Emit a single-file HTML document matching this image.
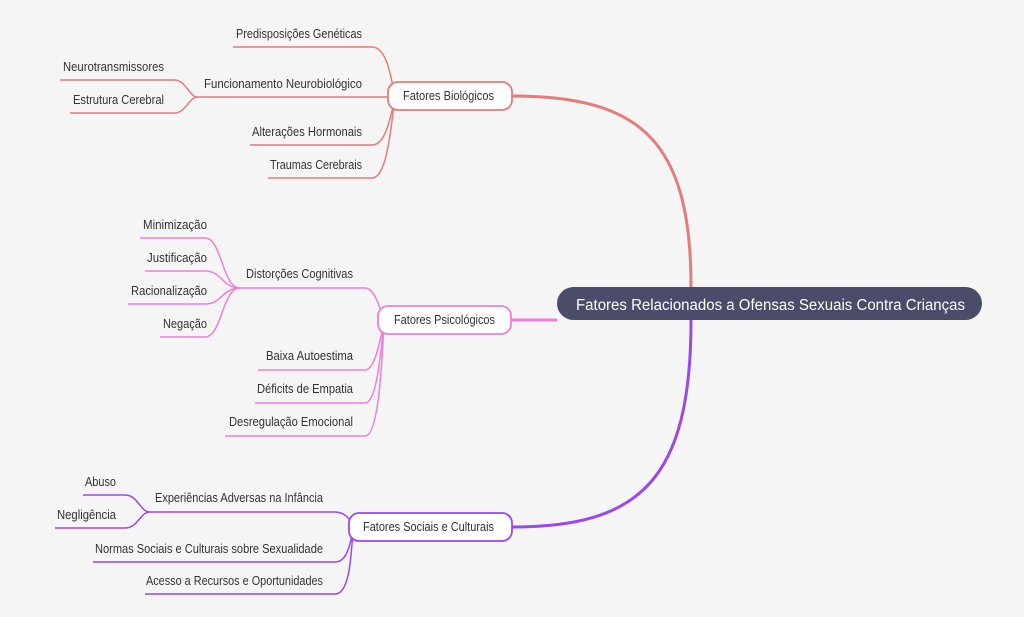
<!DOCTYPE html>
<html><head><meta charset="utf-8"><style>
html,body{margin:0;padding:0;background:#f5f5f5;}
svg{display:block;font-family:"Liberation Sans",sans-serif;}
text{font-size:12.5px;fill:#333;}
</style></head><body>
<svg width="1024" height="617" viewBox="0 0 1024 617">
<rect width="1024" height="617" fill="#f5f5f5"/>
<g fill="none" stroke-width="1.5">
<path d="M512,96 C640,96 691,140 691,287" stroke="#e57b7b" stroke-width="3"/>
<path d="M511,320 L557,320" stroke="#ef7fd6" stroke-width="3"/>
<path d="M512,527 C640,527 691,480 691,320" stroke="#9a48ee" stroke-width="3"/>
<g stroke="#e57b7b">
<path d="M233,47 H372 C385,47 390,70 394,92"/>
<path d="M197,97 H390"/>
<path d="M250,145 H372 C385,145 390,120 394,102"/>
<path d="M268,178 H372 C385,178 390,140 394,104"/>
<path d="M60,80 H175 C185,80 190,97 197,97"/>
<path d="M70,113 H175 C185,113 190,97 197,97"/>
</g>
<g stroke="#ef7fd6">
<path d="M240,288 H365 C375,288 380,310 384,318"/>
<path d="M258,370 H365 C375,370 380,340 384,323"/>
<path d="M255,403 H365 C377,403 381,350 384,323"/>
<path d="M225,436 H365 C379,436 382,360 384,323"/>
<path d="M140,238 H205 C222,238 222,288 240,288"/>
<path d="M145,271 H205 C222,271 222,288 240,288"/>
<path d="M128,304 H205 C222,304 222,288 240,288"/>
<path d="M160,337 H205 C222,337 222,288 240,288"/>
</g>
<g stroke="#9a48ee">
<path d="M150,512 H335 C345,512 350,520 353,524"/>
<path d="M93,562 H335 C347,562 350,545 353,530"/>
<path d="M145,594 H335 C349,594 351,560 353,530"/>
<path d="M83,495 H125 C138,495 140,512 150,512"/>
<path d="M55,528 H125 C138,528 140,512 150,512"/>
</g>
</g>
<rect x="557" y="287" width="425" height="33" rx="16.5" fill="#4a4c69"/>
<text x="576" y="310" textLength="389" lengthAdjust="spacingAndGlyphs" style="font-size:15.5px;fill:#fff">Fatores Relacionados a Ofensas Sexuais Contra Crianças</text>
<rect x="388" y="82" width="124" height="28" rx="10" fill="#fff" stroke="#e57b7b" stroke-width="1.8"/>
<text x="403" y="100" textLength="91" lengthAdjust="spacingAndGlyphs">Fatores Biológicos</text>
<rect x="378" y="306" width="133" height="28" rx="10" fill="#fff" stroke="#ef7fd6" stroke-width="1.8"/>
<text x="394" y="324" textLength="101" lengthAdjust="spacingAndGlyphs">Fatores Psicológicos</text>
<rect x="349" y="513" width="163" height="28" rx="10" fill="#fff" stroke="#9a48ee" stroke-width="1.8"/>
<text x="363" y="531" textLength="131" lengthAdjust="spacingAndGlyphs">Fatores Sociais e Culturais</text>
<g text-anchor="end">
<text x="362" y="38" textLength="126" lengthAdjust="spacingAndGlyphs">Predisposições Genéticas</text>
<text x="362" y="88" textLength="158" lengthAdjust="spacingAndGlyphs">Funcionamento Neurobiológico</text>
<text x="362" y="136" textLength="110" lengthAdjust="spacingAndGlyphs">Alterações Hormonais</text>
<text x="362" y="169" textLength="92" lengthAdjust="spacingAndGlyphs">Traumas Cerebrais</text>
<text x="164" y="71" textLength="101" lengthAdjust="spacingAndGlyphs">Neurotransmissores</text>
<text x="164" y="104" textLength="91" lengthAdjust="spacingAndGlyphs">Estrutura Cerebral</text>
<text x="207" y="229" textLength="64" lengthAdjust="spacingAndGlyphs">Minimização</text>
<text x="207" y="262" textLength="60" lengthAdjust="spacingAndGlyphs">Justificação</text>
<text x="207" y="295" textLength="76" lengthAdjust="spacingAndGlyphs">Racionalização</text>
<text x="207" y="328" textLength="44" lengthAdjust="spacingAndGlyphs">Negação</text>
<text x="353" y="278" textLength="107" lengthAdjust="spacingAndGlyphs">Distorções Cognitivas</text>
<text x="353" y="360" textLength="87" lengthAdjust="spacingAndGlyphs">Baixa Autoestima</text>
<text x="353" y="393" textLength="96" lengthAdjust="spacingAndGlyphs">Déficits de Empatia</text>
<text x="353" y="426" textLength="124" lengthAdjust="spacingAndGlyphs">Desregulação Emocional</text>
<text x="116" y="486" textLength="31" lengthAdjust="spacingAndGlyphs">Abuso</text>
<text x="116" y="519" textLength="59" lengthAdjust="spacingAndGlyphs">Negligência</text>
<text x="323" y="502" textLength="168" lengthAdjust="spacingAndGlyphs">Experiências Adversas na Infância</text>
<text x="323" y="553" textLength="228" lengthAdjust="spacingAndGlyphs">Normas Sociais e Culturais sobre Sexualidade</text>
<text x="323" y="585" textLength="177" lengthAdjust="spacingAndGlyphs">Acesso a Recursos e Oportunidades</text>
</g>
</svg>
</body></html>
